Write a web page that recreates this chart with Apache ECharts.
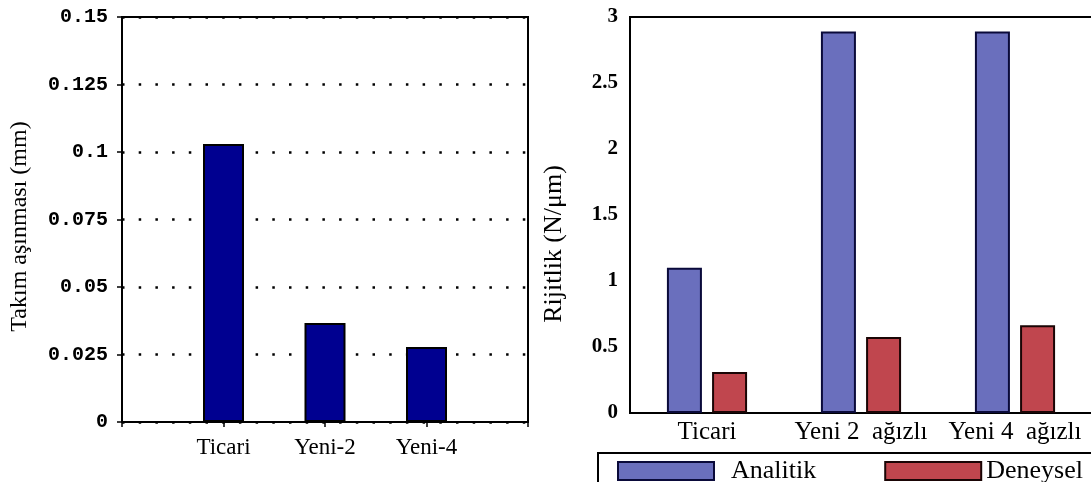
<!DOCTYPE html>
<html>
<head>
<meta charset="utf-8">
<script src="https://cdn.jsdelivr.net/npm/echarts@6/dist/echarts.min.js"></script>
<style>
  html, body { margin: 0; padding: 0; background: #fff; }
  #chart { width: 1091px; height: 482px; }
</style>
</head>
<body>
<div id="chart"></div>
<script>
// sol grafik: takım aşınması
const wearCategories = ['Ticari', 'Yeni-2', 'Yeni-4'];
const wearValues = [0.103, 0.0367, 0.0278];
const wearTicks = ['0', '0.025', '0.05', '0.075', '0.1', '0.125', '0.15'];

// sağ grafik: rijitlik
const stiffCategories = ['Ticari', 'Yeni 2  ağızlı', 'Yeni 4  ağızlı'];
const analitik = [1.1, 2.89, 2.89];
const deneysel = [0.31, 0.575, 0.665];
const stiffTicks = ['0', '0.5', '1', '1.5', '2', '2.5', '3'];

const serif = '"Liberation Serif", "Times New Roman", serif';
const chart = echarts.init(document.getElementById('chart'));

const option = {
  backgroundColor: '#fff',
  animation: false,
  textStyle: { fontFamily: serif, color: '#000' },
  grid: [
    { left: 122, top: 17, width: 406, height: 405, show: true, borderColor: '#000', borderWidth: 2,
      containLabel: false, outerBoundsMode: 'none' },
    { left: 630, top: 17, width: 462, height: 396, show: true, borderColor: '#000', borderWidth: 2,
      containLabel: false, outerBoundsMode: 'none' }
  ],
  legend: {
    left: 598,
    top: 453,
    width: 560,
    padding: [5, 30, 10, 19],
    borderColor: '#000',
    borderWidth: 2,
    itemWidth: 96,
    itemHeight: 18,
    itemGap: 68,
    icon: 'rect',
    textStyle: { fontFamily: serif, fontSize: 26, color: '#000' },
    data: [
      { name: 'Analitik', textStyle: { padding: [0, 0, 0, 12] } },
      { name: 'Deneysel' }
    ]
  },
  xAxis: [
    {
      type: 'value', gridIndex: 0, min: 0, max: 4, interval: 1,
      axisLine: { lineStyle: { color: '#000', width: 2 } },
      axisTick: { show: false },
      splitLine: { show: false },
      axisLabel: {
        margin: 14, fontFamily: serif, fontSize: 23, color: '#000',
        formatter: v => wearCategories[v - 1] || ''
      }
    },
    {
      type: 'value', gridIndex: 0, position: 'top', min: 0, max: 4, interval: 1,
      axisLine: { show: false },
      axisTick: { inside: true, length: 5, lineStyle: { color: '#000', width: 1.5 } },
      axisLabel: { show: false },
      splitLine: { show: false }
    },
    {
      type: 'category', gridIndex: 1, data: stiffCategories,
      axisLine: { lineStyle: { color: '#000', width: 2 } },
      axisTick: { show: false },
      axisLabel: { interval: 0, hideOverlap: false, margin: 7, fontFamily: serif, fontSize: 25, color: '#000' }
    },
    {
      type: 'category', gridIndex: 1, position: 'top', data: stiffCategories,
      axisLine: { show: false },
      axisTick: { inside: true, alignWithLabel: true, length: 5, lineStyle: { color: '#000', width: 1.5 } },
      axisLabel: { show: false }
    }
  ],
  yAxis: [
    {
      type: 'value', gridIndex: 0, min: 0, max: 0.15, interval: 0.025,
      name: 'Takım aşınması (mm)',
      nameLocation: 'middle',
      nameGap: 90,
      nameTextStyle: { fontFamily: serif, fontSize: 24, color: '#000', padding: [0, 14, 0, 0] },
      axisLine: { lineStyle: { color: '#000', width: 2 } },
      axisTick: { show: false },
      axisLabel: {
        margin: 14, fontFamily: '"Liberation Mono", "DejaVu Sans Mono", monospace',
        fontWeight: 'bold', fontSize: 20, color: '#000',
        formatter: (v, i) => wearTicks[i]
      },
      splitLine: { lineStyle: { color: '#000', width: 2.5, type: [2.5, 14.2] } }
    },
    {
      type: 'value', gridIndex: 0, position: 'right', min: 0, max: 0.15, interval: 0.025,
      axisLine: { show: false },
      axisTick: { inside: true, length: 5, lineStyle: { color: '#000', width: 1.5 } },
      axisLabel: { show: false },
      splitLine: { show: false }
    },
    {
      type: 'value', gridIndex: 1, min: 0, max: 3, interval: 0.5,
      name: 'Rijitlik (N/μm)',
      nameLocation: 'middle',
      nameGap: 63,
      nameTextStyle: { fontFamily: serif, fontSize: 26, color: '#000', padding: [0, 58, 0, 0] },
      axisLine: { lineStyle: { color: '#000', width: 2 } },
      axisTick: { inside: true, length: 5, lineStyle: { color: '#000', width: 1.5 } },
      axisLabel: {
        margin: 12, fontFamily: serif, fontWeight: 'bold', fontSize: 21, color: '#000',
        formatter: (v, i) => stiffTicks[i]
      },
      splitLine: { show: false }
    },
    {
      type: 'value', gridIndex: 1, position: 'right', min: 0, max: 3, interval: 0.5,
      axisLine: { show: false },
      axisTick: { inside: true, length: 5, lineStyle: { color: '#000', width: 1.5 } },
      axisLabel: { show: false },
      splitLine: { show: false }
    }
  ],
  series: [
    {
      name: 'wear',
      type: 'bar',
      xAxisIndex: 0,
      yAxisIndex: 0,
      barWidth: 41,
      data: wearValues.map((v, i) => [i + 1, v]),
      itemStyle: { color: '#000090', borderColor: '#000', borderWidth: 2 }
    },
    {
      name: 'Analitik',
      type: 'bar',
      xAxisIndex: 2,
      yAxisIndex: 2,
      barWidth: 35,
      barGap: '29%',
      data: analitik,
      itemStyle: { color: '#6a6fbd', borderColor: '#0a0a3a', borderWidth: 2 }
    },
    {
      name: 'Deneysel',
      type: 'bar',
      xAxisIndex: 2,
      yAxisIndex: 2,
      barWidth: 35,
      barGap: '29%',
      data: deneysel,
      itemStyle: { color: '#c0464e', borderColor: '#1a0505', borderWidth: 2 }
    }
  ]
};

chart.setOption(option);
</script>
</body>
</html>
